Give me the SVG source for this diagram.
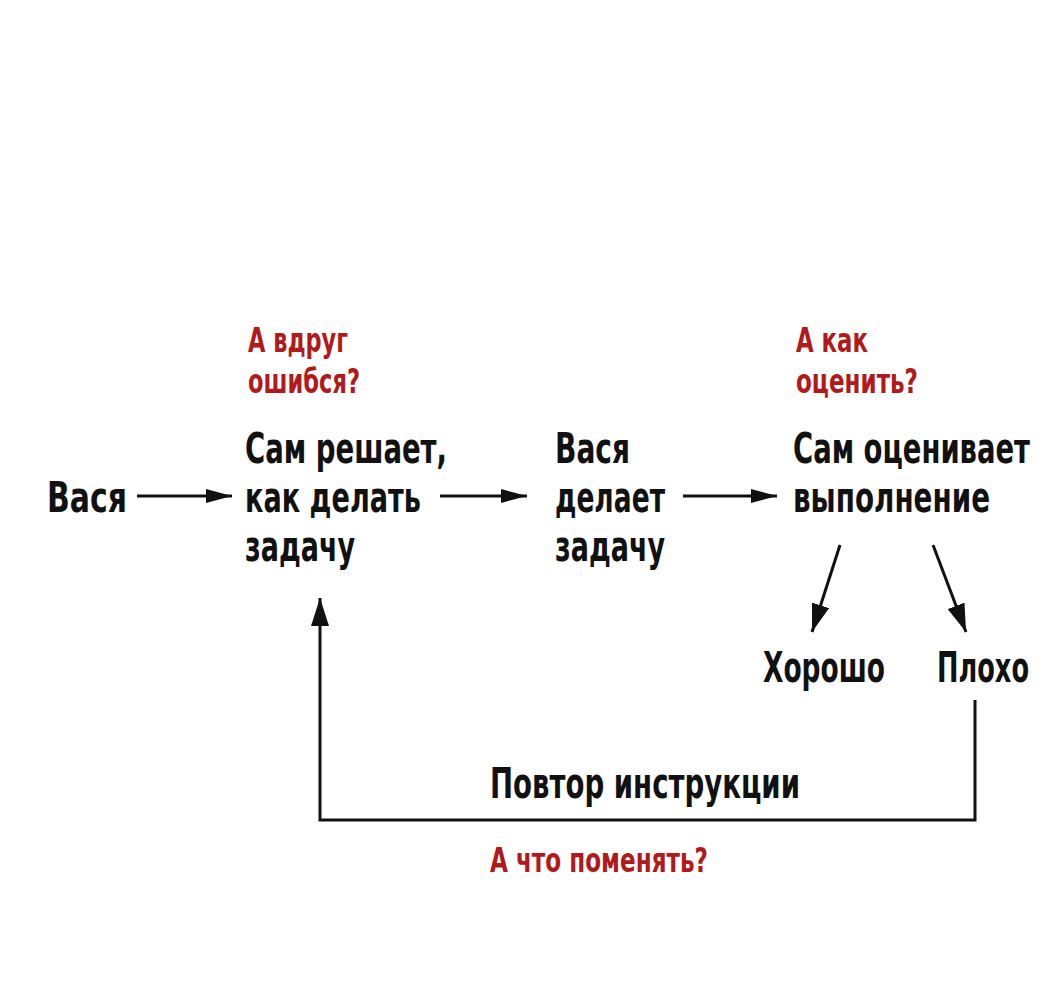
<svg xmlns="http://www.w3.org/2000/svg" width="1054" height="1002" viewBox="0 0 1054 1002">
<style>
.t{font-family:"DejaVu Sans Condensed","Liberation Sans Narrow","Liberation Sans",sans-serif;font-stretch:condensed;font-weight:bold;font-size:42px;fill:#111}
.r{font-family:"DejaVu Sans Condensed","Liberation Sans Narrow","Liberation Sans",sans-serif;font-stretch:condensed;font-weight:bold;font-size:33px;fill:#b01a1a}
.l{stroke:#111;stroke-width:3;fill:none}
</style>
<defs>
<marker id="b" viewBox="0 0 26 14" refX="26" refY="7" markerWidth="26" markerHeight="14" markerUnits="userSpaceOnUse" orient="auto"><path d="M0,0L26,7L0,14z" fill="#111"/></marker>
<marker id="c" viewBox="0 0 28 18" refX="28" refY="9" markerWidth="28" markerHeight="18" markerUnits="userSpaceOnUse" orient="auto"><path d="M0,0L28,9L0,18z" fill="#111"/></marker></defs>
<rect width="1054" height="1002" fill="#fff"/>
<g id="connectors">
<path class="l" d="M137,496H232" marker-end="url(#b)"/>
<path class="l" d="M440,496H527" marker-end="url(#b)"/>
<path class="l" d="M683,496H777" marker-end="url(#b)"/>
<path class="l" d="M840,545L812,632" marker-end="url(#c)"/>
<path class="l" d="M933,545L966,632" marker-end="url(#c)"/>
<path class="l" d="M975,700V820H320V598" marker-end="url(#c)"/>
</g>
<g id="vasya"><text class="t" x="47" y="512" textLength="80" lengthAdjust="spacingAndGlyphs">Вася</text></g>
<g id="decide"><text class="t" x="245" y="463" textLength="202" lengthAdjust="spacingAndGlyphs">Сам решает,</text><text class="t" x="245" y="512" textLength="176" lengthAdjust="spacingAndGlyphs">как делать</text><text class="t" x="245" y="561" textLength="110" lengthAdjust="spacingAndGlyphs">задачу</text></g>
<g id="q1"><text class="r" x="248" y="352" textLength="100" lengthAdjust="spacingAndGlyphs">А вдруг</text><text class="r" x="248" y="393" textLength="112" lengthAdjust="spacingAndGlyphs">ошибся?</text></g>
<g id="does"><text class="t" x="555" y="463" textLength="75" lengthAdjust="spacingAndGlyphs">Вася</text><text class="t" x="555" y="512" textLength="110" lengthAdjust="spacingAndGlyphs">делает</text><text class="t" x="555" y="561" textLength="110" lengthAdjust="spacingAndGlyphs">задачу</text></g>
<g id="evaluate"><text class="t" x="793" y="463" textLength="237" lengthAdjust="spacingAndGlyphs">Сам оценивает</text><text class="t" x="793" y="512" textLength="197" lengthAdjust="spacingAndGlyphs">выполнение</text></g>
<g id="q2"><text class="r" x="796" y="352" textLength="72" lengthAdjust="spacingAndGlyphs">А как</text><text class="r" x="796" y="393" textLength="122" lengthAdjust="spacingAndGlyphs">оценить?</text></g>
<g id="good"><text class="t" x="763" y="682" textLength="122" lengthAdjust="spacingAndGlyphs">Хорошо</text></g>
<g id="bad"><text class="t" x="937" y="682" textLength="92" lengthAdjust="spacingAndGlyphs">Плохо</text></g>
<g id="repeat"><text class="t" x="490" y="798" textLength="310" lengthAdjust="spacingAndGlyphs">Повтор инструкции</text></g>
<g id="q3"><text class="r" x="490" y="872" textLength="218" lengthAdjust="spacingAndGlyphs">А что поменять?</text></g>
</svg>
